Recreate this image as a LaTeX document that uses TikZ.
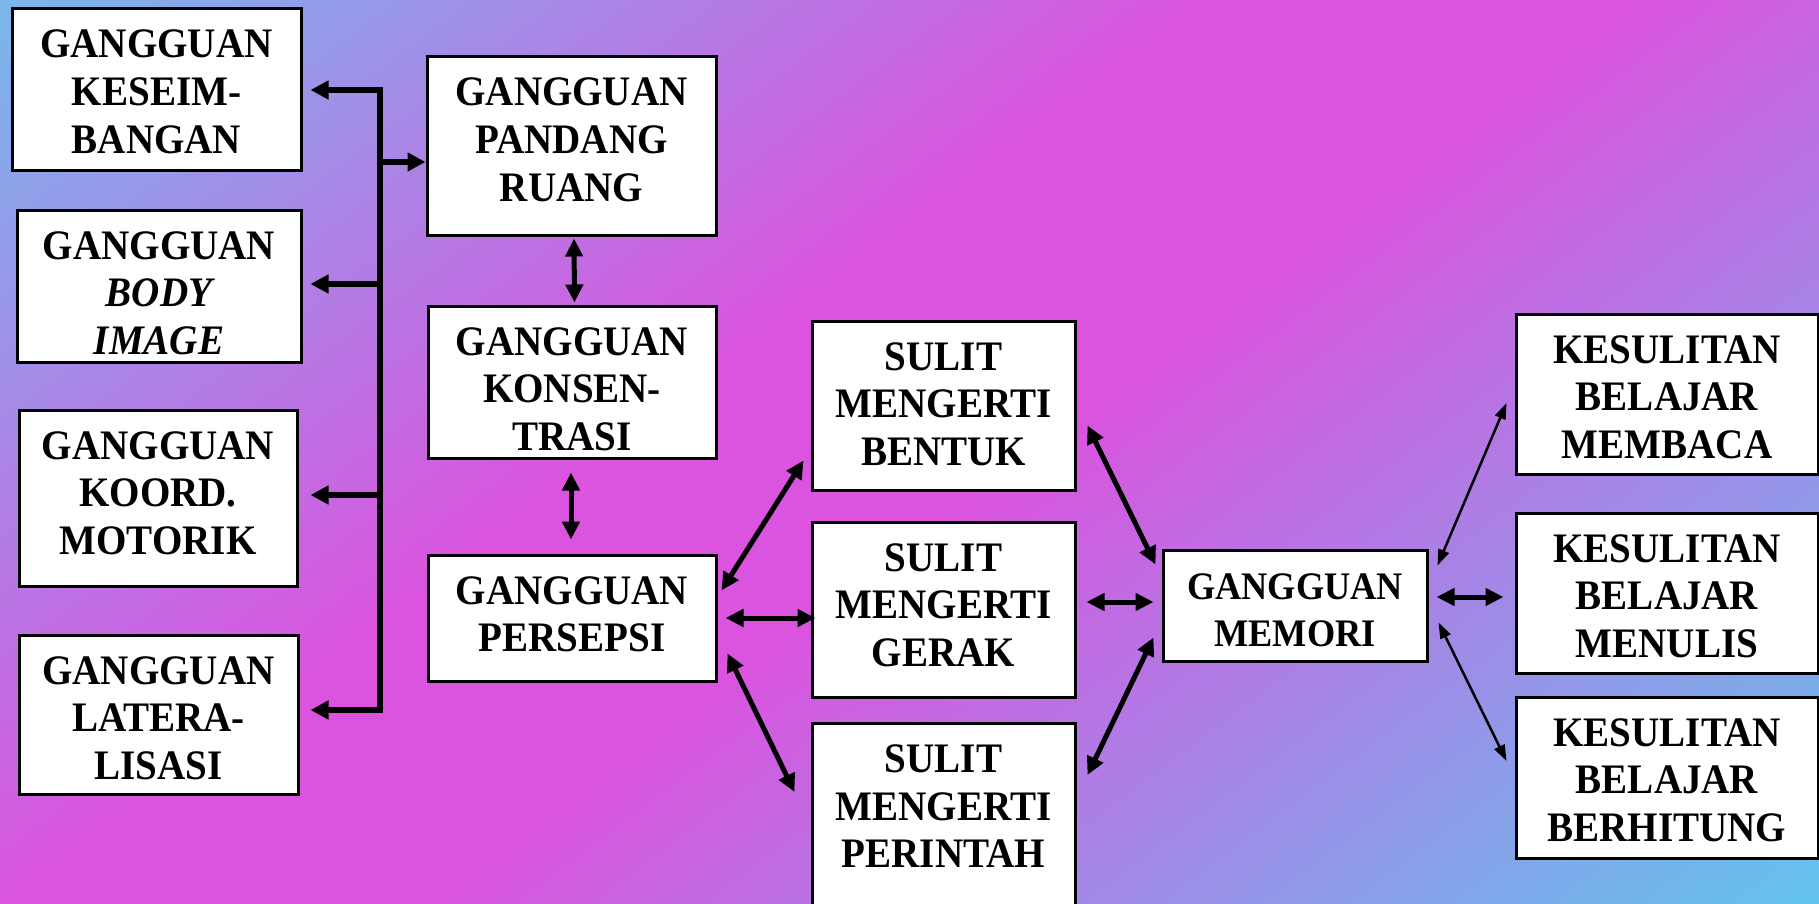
\documentclass[tikz,border=0pt]{standalone}
\usepackage{fontspec}
\newfontfamily\boxfont[FakeStretch=0.93]{Liberation Serif}
\usetikzlibrary{arrows.meta,calc}
\definecolor{bgA}{HTML}{78B8EC}
\definecolor{bgB}{HTML}{DA54DF}
\definecolor{bgC}{HTML}{62C4EE}
\pgfdeclarehorizontalshading{bgsh}{100bp}{color(0bp)=(bgA); color(40bp)=(bgB); color(54bp)=(bgB); color(100bp)=(bgC)}
\newcommand{\toptext}[2]{\parbox[c][#1][t]{250pt}{\centering\rule{0pt}{49pt}#2}}
\tikzset{
  box/.style={draw=black, line width=3pt, fill=white, inner sep=0pt, align=center,
    font=\boxfont\bfseries\fontsize{42pt}{47.7pt}\selectfont},
  busarr/.style={line width=5.5pt, {Triangle[length=18pt,width=18pt]}-{Triangle[length=18pt,width=18pt]}},
  onearr/.style={line width=5.5pt, -{Triangle[length=18pt,width=18pt]}},
  arr/.style={line width=5pt, {Triangle[length=18pt,width=17pt]}-{Triangle[length=18pt,width=17pt]}},
  thinarr/.style={line width=2.5pt, {Triangle[length=16pt,width=11pt]}-{Triangle[length=16pt,width=11pt]}},
}
\begin{document}
\begin{tikzpicture}[x=1pt,y=-1pt]
\useasboundingbox (0,0) rectangle (1819,904);
\begin{scope}
  \clip (0,0) rectangle (1819,904);
  \node[inner sep=0pt, rotate=-53.13, xscale=18.12, yscale=20.5] (bg) at (909.5,452) {\pgfuseshading{bgsh}};
\end{scope}

% left column
\node[box, minimum width=289pt] (kes) at (156.5,90) {\toptext{162pt}{GANGGUAN\\KESEIM-\\BANGAN}};
\node[box, minimum width=284pt] (body) at (159,286) {\toptext{152pt}{GANGGUAN\\{\itshape BODY}\\{\itshape IMAGE}}};
\node[box, minimum width=278pt] (koord) at (158,498) {\toptext{176pt}{GANGGUAN\\KOORD.\\MOTORIK}};
\node[box, minimum width=279pt] (later) at (158.5,714.5) {\toptext{159pt}{GANGGUAN\\LATERA-\\LISASI}};

% second column
\node[box, minimum width=289pt] (pandang) at (571.5,146) {\toptext{178pt}{GANGGUAN\\PANDANG\\RUANG}};
\node[box, minimum width=288pt] (konsen) at (572,382) {\toptext{152pt}{GANGGUAN\\KONSEN-\\TRASI}};
\node[box, minimum width=288pt] (persepsi) at (572,618) {\toptext{126pt}{GANGGUAN\\PERSEPSI}};

% third column
\node[box, minimum width=263pt] (bentuk) at (943.5,405.5) {\toptext{169pt}{SULIT\\MENGERTI\\BENTUK}};
\node[box, minimum width=263pt] (gerak) at (943.5,609.5) {\toptext{175pt}{SULIT\\MENGERTI\\GERAK}};
\node[box, anchor=north, minimum width=263pt] (perintah) at (943.5,722) {\toptext{200pt}{SULIT\\MENGERTI\\PERINTAH}};

% memori
\node[box, minimum width=264pt, font=\boxfont\bfseries\fontsize{39pt}{47.7pt}\selectfont] (memori) at (1295,605.5) {\toptext{111pt}{GANGGUAN\\MEMORI}};

% right column
\node[box, minimum width=302pt] (membaca) at (1667,394) {\toptext{160pt}{KESULITAN\\BELAJAR\\MEMBACA}};
\node[box, minimum width=302pt] (menulis) at (1667,593) {\toptext{160pt}{KESULITAN\\BELAJAR\\MENULIS}};
\node[box, minimum width=302pt] (berhitung) at (1667,777.5) {\toptext{161pt}{KESULITAN\\BELAJAR\\BERHITUNG}};

% bus
\coordinate (bt) at (380,90);
\coordinate (bb) at (380,710);
\coordinate (b1) at (380,162);
\coordinate (b2) at (380,284);
\coordinate (b3) at (380,495);
\draw[busarr, shorten <=8pt, shorten >=11pt] (kes.east |- bt) -- (bt) -- (bb) -- (later.east |- bb);
\draw[onearr] (b1) -- (b1 -| pandang.west);
\draw[onearr, shorten >=8pt] (b2) -- (b2 -| body.east);
\draw[onearr, shorten >=12pt] (b3) -- (b3 -| koord.east);

% vertical arrows
\draw[arr, shorten <=2pt, shorten >=2pt] ([xshift=2.5pt]pandang.south) -- ([xshift=2.5pt]konsen.north);
\draw[arr, shorten <=13pt, shorten >=14pt] ([xshift=-1pt]konsen.south) -- ([xshift=-1pt]persepsi.north);

% persepsi to sulit
\draw[arr] ($(persepsi.north east)+(4,37)$) -- ($(bentuk.south west)+(-7,-31)$);
\draw[arr] ($(persepsi.east)+(8,0)$) -- ($(persepsi.east -| gerak.west)+(5,0)$);
\draw[arr] ($(persepsi.south east)+(10,-29)$) -- ($(perintah.north west)+(-16,70)$);

% sulit to memori
\draw[arr] ($(bentuk.north east)+(11,106)$) -- ($(memori.north west)+(-6,16)$);
\draw[arr] ($(gerak.east)+(10,-7.5)$) -- ($(memori.west)+(-8,-3.5)$);
\draw[arr] ($(perintah.north east)+(11,53)$) -- ($(memori.south west)+(-8,-25)$);

% memori to kesulitan
\draw[thinarr] ($(memori.north east)+(9,17)$) -- ($(membaca.west)+(-8,9)$);
\draw[arr] ($(memori.east)+(8,-8.5)$) -- ($(menulis.west)+(-11,4)$);
\draw[thinarr] ($(memori.south east)+(10,-40)$) -- ($(berhitung.west)+(-8,-16.5)$);
\end{tikzpicture}
\end{document}
